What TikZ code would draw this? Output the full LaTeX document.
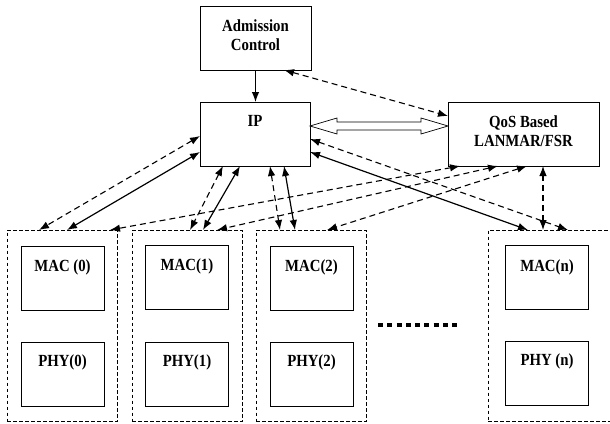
\documentclass[tikz,border=0pt]{standalone}
\usepackage{fontspec}
\setmainfont{Liberation Serif}
\newfontfamily\blockfont[FakeStretch=0.87]{Liberation Serif}
\usetikzlibrary{arrows.meta,calc}

\tikzset{
  blk/.style={draw, line width=0.9pt, minimum height=64pt, inner sep=0pt, outer sep=0pt},
  sub/.style={blk, minimum width=83pt},
  grp/.style={draw, line width=0.6pt, dash pattern=on 3.5pt off 2.5pt,
              minimum height=191.5pt, inner sep=0pt, outer sep=0pt},
  txtfont/.style={font=\blockfont\fontsize{17pt}{19.5pt}\selectfont\bfseries},
  lbl/.style={txtfont, inner sep=0pt, text height=11.5pt, text depth=0pt},
  mlbl/.style={txtfont, inner sep=0pt, align=center, anchor=center, yshift=3pt},
  tip/.tip={Latex[length=10pt,width=7.5pt]},
  con/.style={line width=1.2pt, tip-tip},
  dcon/.style={con, line width=1.1pt, dash pattern=on 6pt off 4pt},
  hollow/.style={draw, fill=white, line width=0.7pt, line join=miter},
  dots/.style={line width=4pt, dash pattern=on 5pt off 4.25pt}
}

\begin{document}
\begin{tikzpicture}[x=1pt, y=-1pt]
  \path[use as bounding box, clip] (0,0) rectangle (610,423);

  % upper layer blocks
  \node[blk, minimum width=111pt,
        label={[mlbl]center:Admission\\Control}]
        (adm) at (255.5,38) {};
  \node[blk, minimum width=110pt,
        label={[lbl, anchor=north, yshift=-12.5pt]north:IP}]
        (ip) at (255,134) {};
  \node[blk, minimum width=151pt,
        label={[mlbl]center:QoS Based\\LANMAR/FSR}]
        (qos) at (523.5,134) {};

  % interface stacks
  \node[grp, minimum width=110pt] (g0) at (62,325.75) {};
  \node[grp, minimum width=110pt] (g1) at (187,325.75) {};
  \node[grp, minimum width=110pt] (g2) at (311,325.75) {};
  \node[grp, minimum width=132pt] (gn) at (554,325.75) {};

  \node[sub, label={[lbl, anchor=north, yshift=-14pt]north:MAC (0)}] (m0) at (62.5,278) {};
  \node[sub, label={[lbl, anchor=north, yshift=-14pt]north:MAC(1)}]  (m1) at (187,277) {};
  \node[sub, label={[lbl, anchor=north, yshift=-14pt]north:MAC(2)}]  (m2) at (311.5,278) {};
  \node[sub, label={[lbl, anchor=north, yshift=-14pt]north:MAC(n)}]  (mn) at (547,277.5) {};

  \node[sub, label={[lbl, anchor=north, yshift=-13pt]north:PHY(0)}]  (p0) at (62.5,374) {};
  \node[sub, label={[lbl, anchor=north, yshift=-13pt]north:PHY(1)}]  (p1) at (187,374) {};
  \node[sub, label={[lbl, anchor=north, yshift=-13pt]north:PHY(2)}]  (p2) at (311.5,374) {};
  \node[sub, label={[lbl, anchor=north, yshift=-13pt]north:PHY (n)}] (pn) at (547,373) {};

  % ellipsis between stacks
  \draw[dots] (378,325) -- (457,325);

  % admission control links
  \draw[line width=1.2pt, -tip] (adm.south) -- (adm.south |- ip.north);
  \draw[dcon] ($(adm.south west)+(84,0)$) -- ($(qos.north west)+(0,14)$);

  % IP <-> routing exchange
  \coordinate (hl) at ($(ip.north east)+(0,24)$);
  \coordinate (hr) at ($(qos.north west)+(0,24)$);
  \draw[hollow] (hl) -- ++(27,-8) -- ++(0,4) -- ($(hr)+(-27,-4)$) -- ++(0,-4) -- (hr)
        -- ++(-27,8) -- ++(0,-4) -- ($(hl)+(27,4)$) -- ++(0,4) -- cycle;

  % stack 0
  \draw[dcon] ($(ip.north west)+(0,34)$) -- ($(g0.north west)+(32,0)$);
  \draw[con]  ($(ip.north west)+(0,50)$) -- ($(g0.north west)+(60,0)$);
  \draw[dcon] ($(qos.south west)+(12,0)$) -- ($(g0.north west)+(103,0)$);

  % stack 1
  \draw[dcon] ($(ip.south west)+(23,0)$) -- ($(g1.north west)+(58,0)$);
  \draw[con]  ($(ip.south west)+(40,0)$) -- ($(g1.north west)+(71,0)$);
  \draw[dcon] ($(qos.south west)+(50,0)$) -- ($(g1.north west)+(85,0)$);

  % stack 2
  \draw[dcon] ($(ip.south west)+(70,0)$) -- ($(g2.north west)+(24,0)$);
  \draw[con]  ($(ip.south west)+(84,0)$) -- ($(g2.north west)+(39,0)$);
  \draw[dcon] ($(qos.south west)+(79,0)$) -- ($(g2.north west)+(71,0)$);

  % stack n
  \draw[dcon] ($(ip.north east)+(0,37)$) -- ($(gn.north west)+(80,0)$);
  \draw[con]  ($(ip.north east)+(0,50)$) -- ($(gn.north west)+(40,0)$);
  \draw[dcon] ($(qos.south west)+(95,0)$) -- ($(gn.north west)+(55,0)$);
\end{tikzpicture}
\end{document}
